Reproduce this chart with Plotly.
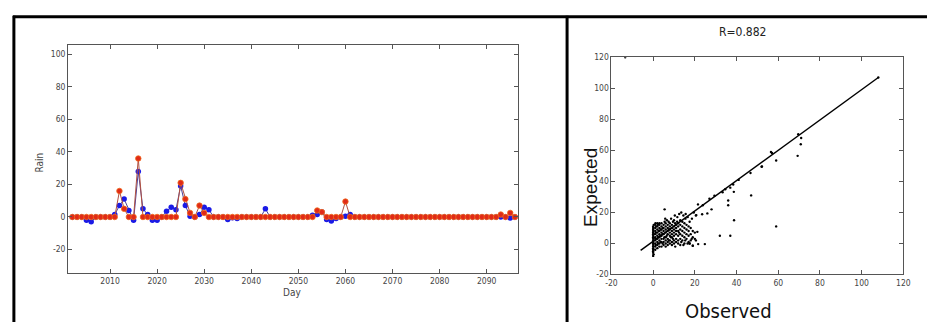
import plotly.graph_objects as go

# ---------------- Left panel data (daily rain) ----------------
days = list(range(2002, 2097))
observed_rain = [0]*95
expected_rain = [0]*95
obs_nonzero = {2012: 16, 2013: 5, 2016: 36, 2025: 21, 2026: 11, 2027: 2.5, 2029: 7,
               2030: 2.5, 2054: 4, 2055: 3, 2060: 9.5, 2093: 1.5, 2095: 2.5}
exp_nonzero = {2005: -2, 2006: -3, 2011: 1.5, 2012: 7, 2013: 11, 2014: 4, 2015: -2,
               2016: 28, 2017: 5, 2018: 1.5, 2019: -2, 2020: -2, 2022: 3.5, 2023: 6,
               2024: 4.5, 2025: 19, 2026: 7, 2027: 0.5, 2029: 1.5, 2030: 6, 2031: 4.5,
               2035: -1.5, 2036: -0.5, 2037: -1, 2043: 5, 2053: 1, 2054: 1.5, 2055: 3,
               2056: -1.5, 2057: -2.5, 2058: -1, 2060: 0.5, 2061: 1.5, 2095: -0.6}
for d, v in obs_nonzero.items():
    observed_rain[d - 2002] = v
for d, v in exp_nonzero.items():
    expected_rain[d - 2002] = v

left_xticks = [2010, 2020, 2030, 2040, 2050, 2060, 2070, 2080, 2090]
left_yticks = [-20, 0, 20, 40, 60, 80, 100]

# ---------------- Right panel data (observed vs expected) ----------------
cluster_pairs = [
    (0, -8), (0, -6), (0, -5), (0, -4), (0, -3), (0, -2), (0, -1), (0, 0), (0, 1), (0, 2),
    (0, 3), (0, 4), (0, 5), (0, 6), (0, 7), (0, 8), (0, 9), (0, 10), (0, 11), (0.3, 12),
    (0.2, -7), (0.3, 3.5), (0.2, 6.5),
    (1, -4), (1, -2), (1, 0), (1, 2), (1, 4), (1, 6), (1, 8), (1, 10), (1, 12), (1.2, -1),
    (1.3, 3), (1.4, 7), (1.5, 11), (1.1, 13),
    (2, -3), (2, -1), (2, 1), (2, 3), (2, 5), (2, 7), (2, 9), (2, 11), (2, 13), (2.4, 0),
    (2.5, 4), (2.6, 8), (2.3, 12),
    (3, -2), (3, 0), (3, 2), (3, 4), (3, 6), (3, 8), (3, 10), (3, 12), (3, 13), (3.5, 1),
    (3.4, 5), (3.6, 9),
    (4, -2), (4, 1), (4, 3), (4, 5), (4, 7), (4, 9), (4, 11), (4, 13), (4.5, 0), (4.5, 6),
    (4.6, 10),
    (5, -1), (5, 1), (5, 3), (5, 6), (5, 8), (5, 10), (5, 12), (5.5, 14), (5.4, 4),
    (5.5, 22), (5.8, 16),
    (6, -2), (6, 0), (6, 2), (6, 4), (6, 7), (6, 9), (6, 11), (6, 13), (6.5, 5), (6.6, 15),
    (7, -1), (7, 1), (7, 3), (7, 6), (7, 8), (7, 10), (7, 12), (7.5, 2), (7.4, 14), (7.6, 9),
    (8, 0), (8, 2), (8, 5), (8, 7), (8, 9), (8, 11), (8, 13), (8.5, 4), (8.6, 16),
    (9, -1), (9, 1), (9, 4), (9, 6), (9, 8), (9, 10), (9, 12), (9.5, 3), (9.5, 14),
    (10, 0), (10, 2), (10, 5), (10, 7), (10, 9), (10, 11), (10, 15), (10.5, 13), (10.6, -2),
    (10.4, 18),
    (11, 1), (11, 3), (11, 6), (11, 8), (11, 10), (11, 12), (11.5, 14), (11.6, 17),
    (12, 0), (12, 2), (12, 5), (12, 8), (12, 11), (12, 13), (12.5, 19), (12.4, 7),
    (13, -1), (13, 3), (13, 6), (13, 9), (13, 12), (13, 15), (13.5, 20), (13.5, 1),
    (14, 2), (14, 5), (14, 8), (14, 11), (14, 14), (14.5, 18), (14.5, -1),
    (15, 0), (15, 4), (15, 7), (15, 10), (15, 13), (15.5, 16), (15.6, 19), (15.4, 2),
    (16, 3), (16, 6), (16, 9), (16, 12), (16.5, 0), (16.6, 17),
    (17, 1), (17, 5), (17, 8), (17, 11), (17.5, 0), (17.5, 14),
    (18, 2), (18, 6), (18, 10), (18.5, 3), (18.6, 16),
    (19, -1.5), (19, 4), (19, 8), (19.5, 20),
    (20, 3), (20, 7), (20.5, 18), (20.5, 2),
]
outlier_pairs = [
    (69.3, 56.5), (70.8, 64), (59, 53.5), (59, 11), (56.5, 59), (52, 49.5), (47, 31),
    (38.7, 33.3), (38.8, 15), (36, 27.7), (36, 24.6), (37, 5), (32, 5), (24.8, -0.4),
    (21.2, 7.5), (28, 22), (26, 19.4), (23.5, 18.8), (20.7, 18.3), (21.5, 25.2),
    (21.6, -0.4), (19, -1.5), (17.5, 0), (33.3, 33), (34.6, 35), (37, 36), (38.4, 38),
    (27, 28.8), (23.8, 24.6), (29.4, 30.8), (41, 41), (46.7, 45.4), (52.2, 49.6),
    (57, 58.3), (69.6, 70.4), (71, 68), (108, 107), (-13.4, 120),
]
fit_x = [-6, 108]
fit_y = [-4.5, 107]
right_ticks = [-20, 0, 20, 40, 60, 80, 100, 120]

obs_pts = [p[0] for p in cluster_pairs + outlier_pairs]
exp_pts = [p[1] for p in cluster_pairs + outlier_pairs]

W, H = 934, 327
def px(x):
    return x / W
def py(y):
    return (H - y) / H

narrow = ("Liberation Sans Narrow, DejaVu Sans Condensed, Roboto Condensed, "
          "Arial Narrow, Liberation Sans, sans-serif")
tick_font = dict(family=narrow, size=8.5, color="#444444")

fig = go.Figure()
fig.add_trace(go.Scatter(x=days, y=expected_rain, mode="lines+markers",
                         line=dict(color="#4a3f9a", width=1),
                         marker=dict(color="#1a1ae6", size=5.5),
                         xaxis="x", yaxis="y", showlegend=False))
fig.add_trace(go.Scatter(x=days, y=observed_rain, mode="lines+markers",
                         line=dict(color="#b05040", width=1),
                         marker=dict(color="#e02a18", size=5.5,
                                     line=dict(color="#f06a1a", width=0.8)),
                         xaxis="x", yaxis="y", showlegend=False))
fig.add_trace(go.Scatter(x=fit_x, y=fit_y, mode="lines",
                         line=dict(color="black", width=1.5),
                         xaxis="x2", yaxis="y2", showlegend=False))
fig.add_trace(go.Scatter(x=obs_pts, y=exp_pts, mode="markers",
                         marker=dict(color="black", size=2.4),
                         xaxis="x2", yaxis="y2", showlegend=False))

axis_common = dict(showline=True, mirror="ticks", linecolor="#555555", linewidth=1,
                   ticks="inside", ticklen=4, tickcolor="#555555", showgrid=False,
                   zeroline=False, tickfont=tick_font)

fig.update_layout(
    width=W, height=H, margin=dict(l=0, r=0, t=0, b=0),
    paper_bgcolor="white", plot_bgcolor="white",
    xaxis=dict(domain=[px(63), px(519)], range=[2001.1, 2096.6],
               tickvals=left_xticks, ticktext=[str(t) for t in left_xticks],
               anchor="y", **axis_common),
    yaxis=dict(domain=[py(276), py(41)], range=[-34.2, 106],
               tickvals=left_yticks, ticktext=[str(t) for t in left_yticks],
               anchor="x", **axis_common),
    xaxis2=dict(domain=[px(614), px(910)], range=[-20, 120],
                tickvals=right_ticks, ticktext=[str(t) for t in right_ticks],
                anchor="y2", **axis_common),
    yaxis2=dict(domain=[py(278), py(54)], range=[-20, 120],
                tickvals=right_ticks, ticktext=[str(t) for t in right_ticks],
                anchor="x2", **axis_common),
)

def label(text, x, y, size, family=narrow, color="#444", angle=0):
    fig.add_annotation(text=text, x=px(x), y=py(y), xref="paper", yref="paper",
                       xanchor="center", yanchor="middle", textangle=angle,
                       showarrow=False, font=dict(family=family, size=size, color=color))

label("Rain", 33, 163, 10, angle=-90)
label("Day", 290, 297, 10)
label("R=0.882", 747, 28, 12, color="#222")
label("Expected", 592, 188, 19, family="Liberation Sans, Arial, sans-serif", color="#111", angle=-90)
label("Observed", 733, 316, 20, color="#111")

# Table-like border lines
border = dict(color="black", width=3)
fig.add_shape(type="line", xref="paper", yref="paper", x0=px(7), x1=1, y0=py(12), y1=py(12), line=border)
fig.add_shape(type="line", xref="paper", yref="paper", x0=px(8), x1=px(8), y0=py(11), y1=0, line=border)
fig.add_shape(type="line", xref="paper", yref="paper", x0=px(569), x1=px(569), y0=py(11), y1=0, line=border)

fig.write_html("out.html")
